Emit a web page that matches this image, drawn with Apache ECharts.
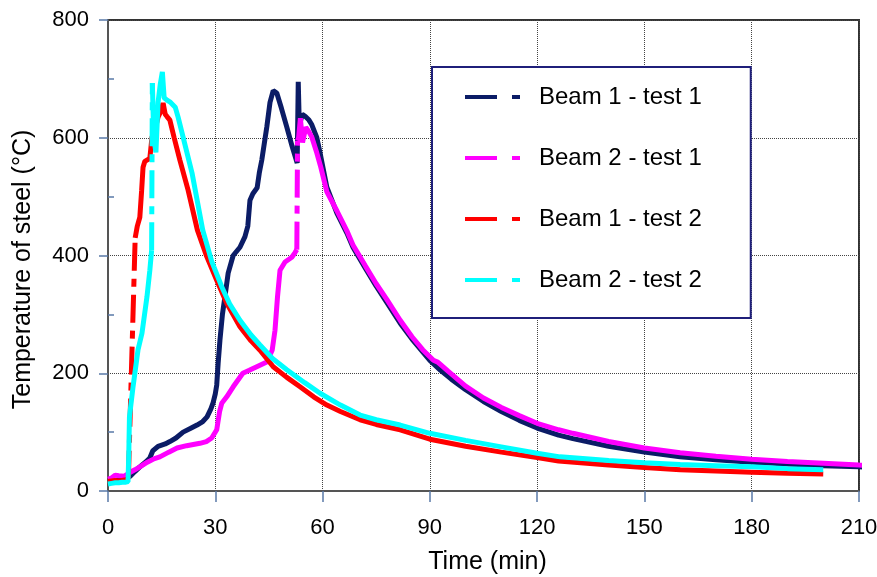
<!DOCTYPE html>
<html><head><meta charset="utf-8">
<script src="https://cdn.jsdelivr.net/npm/echarts@6/dist/echarts.min.js"></script>
<style>html,body{margin:0;padding:0;background:#fff}#c{width:877px;height:577px}</style>
</head><body><div id="c"></div>
<script>
const seriesNames = ['Beam 1 - test 1', 'Beam 2 - test 1', 'Beam 1 - test 2', 'Beam 2 - test 2'];
const xTickValues = [0, 30, 60, 90, 120, 150, 180, 210];
const yTickValues = [0, 200, 400, 600, 800];
const yMinorTickValues = [100, 300, 500, 700];

// Beam 1 - test 1 (navy)
const beam1test1 = [[0,17],[2,18],[4,20],[5.5,22],[6.2,25],[7.5,33],[8.9,41],[10.3,48],[11.7,56],[12.5,68],[14,76],[16,80],[17.3,84],[19,90],[21,100],[23,106],[24.9,112],[26.5,118],[27.7,126],[28.8,140],[29.4,150],[30,165],[30.4,180],[30.8,217],[31.3,256],[32,300],[32.7,330],[33.6,370],[35,400],[36.9,414],[38.3,432],[39.1,450],[39.7,494],[40.5,505],[41.7,515],[42.3,540],[43,562],[44.4,618],[45.3,660],[46.2,680],[47.2,676],[48.5,650],[50,618],[51.5,585],[52.9,557],[53.2,695],[53.5,620],[54.3,640],[55.2,636],[56.2,630],[57,622],[58.4,600],[59.3,574],[61.2,516],[64,472],[66.8,438],[68.5,414],[72,378],[75,348],[78,320],[81.7,285],[85,258],[90,222],[93,205],[96,190],[100,172],[105,152],[110,135],[115,120],[120,107],[126,95],[130,89],[140,76],[150,66],[160,58],[170,53],[180,49],[190,46],[200,43],[210,41],[216,40]];

// Beam 2 - test 1 (magenta)
const beam2test1Before = [[0,20],[1,22],[2,27],[3,26],[4.5,25],[6,31],[7.5,36],[8.9,41],[11,49],[13,55],[14.5,58],[17,66],[19.3,73],[22,77],[25.7,81],[27.5,84],[29,90],[30.4,104],[31.2,135],[31.8,149],[33.2,160],[35,177],[37.7,200],[39.5,205],[41.6,211],[44.4,219],[45.9,239],[46.7,273],[47.4,330],[48.1,375],[49.5,389],[51.4,397],[52.3,405],[52.8,410]];
const beam2test1Jump = [[52.8,410],[53.0,595]];
const beam2test1After = [[53.0,595],[53.3,600],[53.8,633],[54.4,592],[55.3,618],[56.2,610],[57,601],[58.4,574],[59.5,550],[61.2,508],[64,476],[66.8,442],[68.5,418],[72,382],[75,352],[78,325],[81.7,290],[85,262],[88,240],[91,222],[92.2,219],[93.5,212],[95,204],[100,178],[105,158],[110,142],[115,128],[120,115],[126,104],[130,98],[140,84],[150,73],[160,65],[170,59],[180,54],[190,50],[200,47],[210,44],[216,43]];

// Beam 1 - test 2 (red)
const beam1test2Before = [[0,16],[1,17],[2,18],[3,17],[4,18],[5,19],[5.7,21]];
const beam1test2Jump = [[5.7,21],[7.6,430]];
const beam1test2After = [[7.6,430],[8.2,450],[8.9,465],[9.4,510],[9.8,550],[10.3,560],[11.7,565],[12.3,601],[13.2,615],[14,635],[14.8,645],[15.4,659],[16,640],[16.5,636],[17.3,630],[18.5,600],[20.1,562],[22.4,511],[25,443],[27.5,400],[30.4,358],[33.2,319],[36.9,279],[40,255],[42.5,239],[46.2,211],[50,193],[53.7,177],[57.5,160],[61.2,146],[65,135],[70.5,121],[75,113],[81.7,104],[90,88],[100,76],[110,66],[120,57],[126,51],[140,44],[150,40],[160,36],[170,34],[180,32],[190,30],[200,29]];

// Beam 2 - test 2 (cyan)
const beam2test2Before = [[0,12],[1,13],[2,14],[3,14],[4,15],[5,15],[5.6,16],[5.8,60],[6,126],[7,177],[8.4,240],[9.5,268],[10.9,330],[11.7,375],[12.2,409]];
const beam2test2Jump = [[12.2,409],[12.4,693]];
const beam2test2After = [[12.4,693],[12.8,600],[13.4,575],[14,660],[14.6,690],[15.2,712],[15.7,668],[16.5,664],[17.5,660],[18.8,652],[19.6,635],[21,601],[23.5,540],[26.5,443],[29,390],[31.8,347],[34,318],[36.9,290],[40,265],[42.5,248],[46,225],[50,206],[55,184],[59.3,166],[65,146],[70.5,129],[75,121],[81.7,112],[90,98],[100,86],[110,75],[120,64],[126.4,58],[140,52],[150,48],[160,45],[170,43],[180,41],[190,38],[200,36]];

const colors = ['#0b1c66', '#ff00ff', '#ff0000', '#00ffff'];
const FONT = 'Liberation Sans, Arial, sans-serif';
const DASH = [28, 8, 8, 8];

function line(nameIdx, data, dashed) {
  return {
    name: seriesNames[nameIdx], type: 'line', data: data,
    showSymbol: false, symbol: 'none', clip: false, animation: false,
    color: colors[nameIdx],
    lineStyle: { width: 5, color: colors[nameIdx], type: dashed ? DASH : 'solid' },
    emphasis: { disabled: true }
  };
}

const chart = echarts.init(document.getElementById('c'), null, { renderer: 'canvas' });
chart.setOption({
  backgroundColor: '#fff',
  animation: false,
  grid: { left: 108, right: 18, top: 20, bottom: 86, containLabel: false, outerBoundsMode: 'none', show: true, borderColor: '#333', borderWidth: 2, backgroundColor: 'transparent' },
  legend: {
    data: seriesNames, orient: 'vertical', left: 432, top: 67,
    padding: [18, 49, 26, 33], itemGap: 37, itemWidth: 55, itemHeight: 4,
    icon: 'path://M0,0H32V4H0Z M47,0H55V4H47Z',
    itemStyle: { borderWidth: 0 },
    textStyle: { fontSize: 24, fontFamily: FONT, color: '#000', padding: [0, 0, 0, 14] },
    borderColor: '#1f1f7a', borderWidth: 2, backgroundColor: '#fff', selectedMode: false
  },
  xAxis: {
    type: 'value', min: xTickValues[0], max: xTickValues[xTickValues.length - 1], interval: 30,
    name: 'Time (min)', nameLocation: 'middle', nameGap: 59,
    nameTextStyle: { fontSize: 25, fontFamily: FONT, color: '#000', padding: [0, 0, 0, 8] },
    axisLine: { show: true, lineStyle: { color: '#555', width: 2 } },
    axisTick: { show: true, length: 11, lineStyle: { color: '#5a7aa8', width: 1.5 } },
    axisLabel: { fontSize: 22, fontFamily: FONT, color: '#000', margin: 26 },
    splitLine: { show: true, lineStyle: { color: '#444', type: [1, 1], width: 1 } }
  },
  yAxis: [{
    type: 'value', min: yTickValues[0], max: yTickValues[yTickValues.length - 1], interval: 200,
    name: 'Temperature of steel (°C)', nameLocation: 'middle', nameGap: 72,
    nameTextStyle: { fontSize: 25, fontFamily: FONT, color: '#000', padding: [0, 28, 0, 0] },
    axisLine: { show: true, lineStyle: { color: '#555', width: 2 } },
    axisTick: { show: true, length: 9, lineStyle: { color: '#5a7aa8', width: 1.5 } },
    axisLabel: { fontSize: 22, fontFamily: FONT, color: '#000', margin: 19 },
    splitLine: { show: true, lineStyle: { color: '#444', type: [1, 1], width: 1 } }
  }, {
    type: 'value', min: yTickValues[0], max: yTickValues[yTickValues.length - 1], position: 'left',
    axisLine: { show: false },
    axisTick: { show: true, inside: true, length: 6, customValues: yMinorTickValues, lineStyle: { color: '#5a7aa8', width: 1.5 } },
    axisLabel: { show: false },
    splitLine: { show: false }
  }],
  series: [
    line(0, beam1test1, false),
    line(1, beam2test1Before, false),
    line(1, beam2test1Jump, true),
    line(1, beam2test1After, false),
    line(2, beam1test2Before, false),
    line(2, beam1test2Jump, true),
    line(2, beam1test2After, false),
    line(3, beam2test2Before, false),
    line(3, beam2test2Jump, true),
    line(3, beam2test2After, false)
  ]
});
</script></body></html>
